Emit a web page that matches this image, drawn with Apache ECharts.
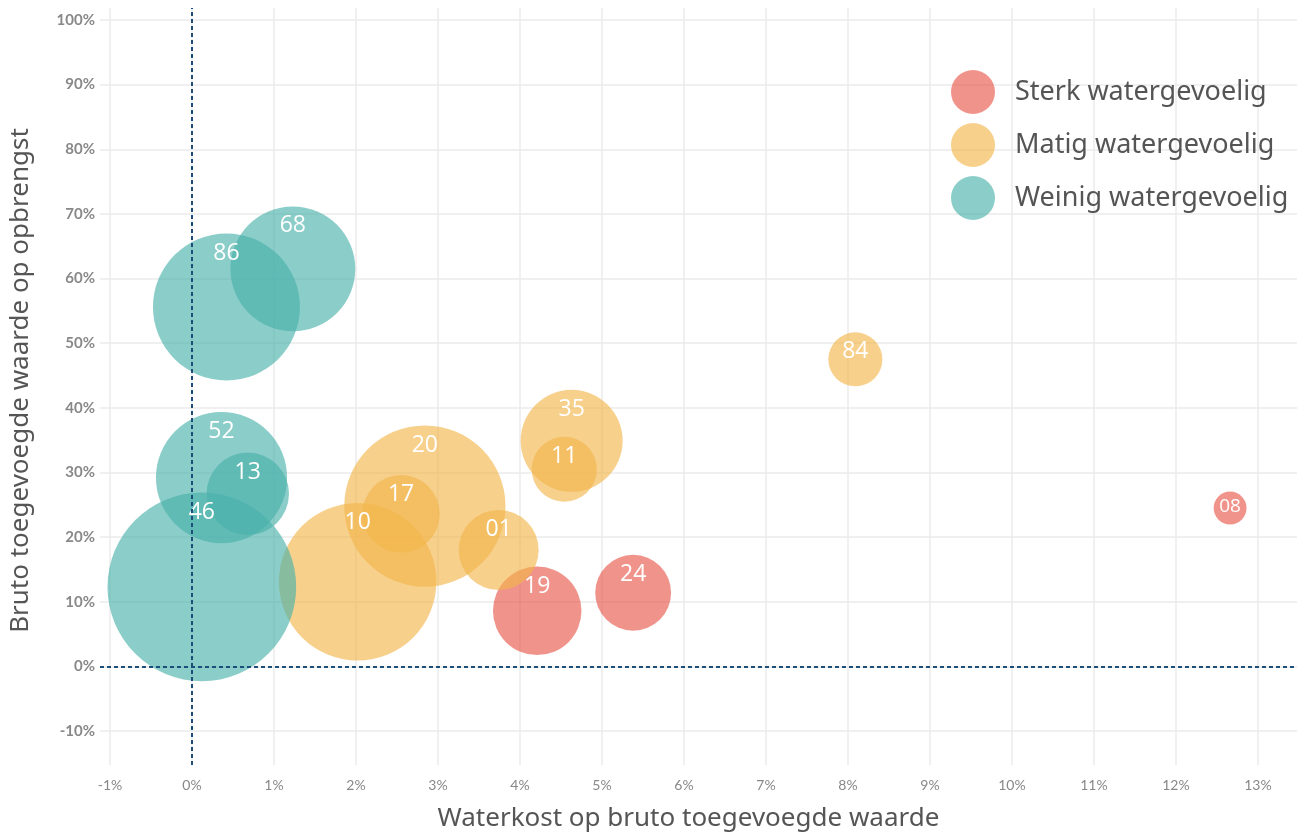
<!DOCTYPE html>
<html>
<head>
<meta charset="utf-8">
<title>Watergevoeligheid per sector</title>
<script src="https://cdn.jsdelivr.net/npm/echarts@6/dist/echarts.min.js"></script>
<style>
  html, body { margin: 0; padding: 0; background: #fff; }
  #chart { width: 1297px; height: 837px; }
</style>
</head>
<body>
<div id="chart"></div>
<script>
// sectoren: [waterkost %, bruto toegevoegde waarde %, omvang, code]
var sterk = [
	[4.21, 8.6, 19.6, '19'],
	[5.38, 11.4, 14.4, '24'],
	[12.66, 24.5, 2.7, '08']
];
var matig = [
	[2.02, 13.1, 62, '10'],
	[2.84, 24.8, 65, '20'],
	[2.55, 23.6, 15, '17'],
	[3.74, 18.0, 16, '01'],
	[4.63, 34.9, 26, '35'],
	[4.54, 30.5, 10.6, '11'],
	[8.09, 47.5, 7.3, '84']
];
var weinig = [
	[0.12, 12.3, 89, '46'],
	[0.36, 29.2, 43, '52'],
	[0.68, 26.7, 17, '13'],
	[0.42, 55.6, 54, '86'],
	[1.23, 61.5, 39, '68']
];
var groepen = ['Sterk watergevoelig', 'Matig watergevoelig', 'Weinig watergevoelig'];
var xTicks = [-1, 0, 1, 2, 3, 4, 5, 6, 7, 8, 9, 10, 11, 12, 13];
var yTicks = [-10, 0, 10, 20, 30, 40, 50, 60, 70, 80, 90, 100];

var kleuren = ['rgba(232,87,74,0.64)', 'rgba(243,181,75,0.64)', 'rgba(74,176,170,0.64)'];

function bubbel(d) {
	return 20 * Math.sqrt(d[2]);
}

function maakSerie(naam, data, kleur, metLijnen) {
	var serie = {
		name: naam,
		type: 'scatter',
		symbolSize: bubbel,
		itemStyle: { color: kleur, opacity: 1 },
		label: {
			show: true,
			position: 'insideTop',
			distance: 8,
			formatter: function (p) { return p.data.value[3]; },
			color: '#fff',
			fontSize: 23,
			fontFamily: 'Open Sans'
		},
		emphasis: { disabled: true },
		data: data.map(function (d) {
			var item = { value: d };
			if (d[2] < 5) {
				item.label = { fontSize: 19, distance: 5 };
			}
			return item;
		})
	};
	if (metLijnen) {
		// stippellijnen op 0%
		serie.markLine = {
			silent: true,
			symbol: 'none',
			label: { show: false },
			lineStyle: { color: '#1d4e7a', type: [4, 3], width: 2 },
			data: [{ xAxis: 0 }, { yAxis: 0 }]
		};
	}
	return serie;
}

var myChart = echarts.init(document.getElementById('chart'));
var option = {
	animation: false,
	grid: { left: 100, right: 0, top: 8, bottom: 70 },
	legend: {
		orient: 'vertical',
		left: 951,
		top: 70,
		padding: 0,
		icon: 'circle',
		itemWidth: 44,
		itemHeight: 44,
		itemGap: 9,
		selectedMode: false,
		data: groepen,
		textStyle: { fontSize: 27, color: '#555', fontFamily: 'Noto Sans', padding: [0, 0, 0, 15] }
	},
	xAxis: {
		type: 'value',
		min: -1.122,
		max: 13.476,
		name: 'Waterkost op bruto toegevoegde waarde',
		nameLocation: 'middle',
		nameGap: 41,
		nameTextStyle: { fontSize: 26, color: '#555', fontFamily: 'Noto Sans', padding: [0, 20, 0, 0] },
		axisLine: { show: false },
		axisTick: { show: false, customValues: xTicks },
		axisLabel: {
			customValues: xTicks,
			formatter: function (v) { return v + '%'; },
			color: '#888',
			fontSize: 14,
			fontFamily: 'Lato',
			margin: 13
		},
		splitLine: { show: true, lineStyle: { color: '#ebebeb', width: 1.5 } }
	},
	yAxis: {
		type: 'value',
		min: -15.25,
		max: 101.85,
		name: 'Bruto toegevoegde waarde op opbrengst',
		nameLocation: 'middle',
		nameGap: 66,
		nameTextStyle: { fontSize: 26, color: '#555', fontFamily: 'Noto Sans', padding: [0, 0, 0, 12] },
		axisLine: { show: false },
		axisTick: { show: false, customValues: yTicks },
		axisLabel: {
			customValues: yTicks,
			formatter: function (v) { return v + '%'; },
			color: '#888',
			fontSize: 15,
			fontFamily: 'Lato',
			fontWeight: 'bold',
			margin: 5
		},
		splitLine: { show: true, lineStyle: { color: '#ebebeb', width: 1.5 } }
	},
	series: [
		maakSerie(groepen[0], sterk, kleuren[0], true),
		maakSerie(groepen[1], matig, kleuren[1], false),
		maakSerie(groepen[2], weinig, kleuren[2], false)
	]
};
myChart.setOption(option);
</script>
</body>
</html>
